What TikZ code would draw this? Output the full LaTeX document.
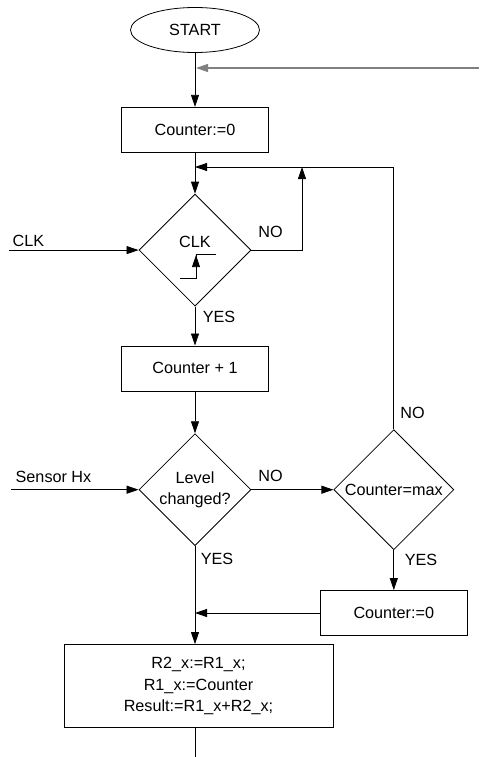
\documentclass[tikz,border=0pt]{standalone}
\usepackage{fontspec}
\setmainfont{Liberation Sans}
\usetikzlibrary{arrows.meta,positioning,shapes.geometric}

\begin{document}
\begin{tikzpicture}[
  x=1pt, y=-1pt,
  every node/.style={font=\fontsize{16.2}{21.5}\selectfont},
  line width=0.8pt,
  term/.style={draw, ellipse, minimum width=129pt, minimum height=45pt, inner sep=1pt},
  box/.style={draw, align=center, minimum width=147pt, minimum height=45pt},
  bigbox/.style={draw, align=center, minimum width=269pt, minimum height=83pt},
  dec/.style={draw, diamond, align=center, minimum width=112pt, minimum height=112pt, inner sep=1pt},
  lbl/.style={inner sep=0pt},
  arrow/.style={-{Triangle[length=12pt, width=8pt]}},
  feedgray/.style={draw=black!50, fill=black!50, line width=1.3pt}
]
\useasboundingbox (0,0) rectangle (479,757);

\node[term] (start) at (195,30) {START};
\node[box, below=54pt of start] (init) {Counter:=0};
\node[dec, below=41pt of init] (clk) {};
\node[box, below=39pt of clk] (incr) {Counter + 1};
\node[dec, below=42pt of incr] (level) {Level\\changed?};
\node[dec, minimum width=120pt, minimum height=120pt, right=82pt of level] (max) {Counter=max};
\node[box, below=40pt of max] (reset) {Counter:=0};
\node[bigbox, below=98pt of level, xshift=3.5pt] (calc) {R2\_x:=R1\_x;\\R1\_x:=Counter\\Result:=R1\_x+R2\_x;};

% clock edge inside the test
\node[lbl] (clktxt) at ([yshift=8.5pt]clk.center) {CLK};
\draw ([shift={(-15,28.5)}]clk.center) -- ([shift={(1,28.5)}]clk.center)
  -- ([shift={(1,4.5)}]clk.center) -- ([shift={(21,4.5)}]clk.center);
\draw[arrow] ([shift={(1,24)}]clk.center) -- ([shift={(1,5)}]clk.center);

% free ends and joints
\coordinate (feed) at (479,68);
\coordinate (ret) at (195,167);
\coordinate (turn) at (302,167);
\coordinate (clkin) at (clk.west -| 9,0);
\coordinate (hxin) at (level.west -| 11,0);
\coordinate (merge) at (level.south |- reset.west);
\coordinate (out) at (195,757);

\draw[arrow] (start) -- (init);
\draw[arrow, feedgray] (feed) -- ([xshift=1pt]feed -| start.south);
\draw[arrow] (init) -- (clk);
\draw[arrow] (clkin) -- (clk);
\draw[arrow] (clk.east) -| (turn);
\draw[arrow] (max.north) |- (ret);
\draw[arrow] (clk) -- (incr);
\draw[arrow] (incr) -- (level);
\draw[arrow] (hxin) -- (level);
\draw[arrow] (level) -- (max);
\draw[arrow] (max) -- (reset);
\draw[arrow] (reset) -- (merge);
\draw[arrow] (level.south) -- (level.south |- calc.north);
\draw (level.south |- calc.south) -- (out);

% labels
\node[lbl] (clklbl) at (28.5,241) {CLK};
\node[lbl] (clkno) at (270.5,232) {NO};
\node[lbl] (clkyes) at (219,317) {YES};
\node[lbl] (hxlbl) at (53.5,477) {Sensor Hx};
\node[lbl] (levelno) at (270.5,476) {NO};
\node[lbl] (levelyes) at (217,559) {YES};
\node[lbl] (maxno) at (412.5,413) {NO};
\node[lbl] (maxyes) at (421,560) {YES};
\end{tikzpicture}
\end{document}
